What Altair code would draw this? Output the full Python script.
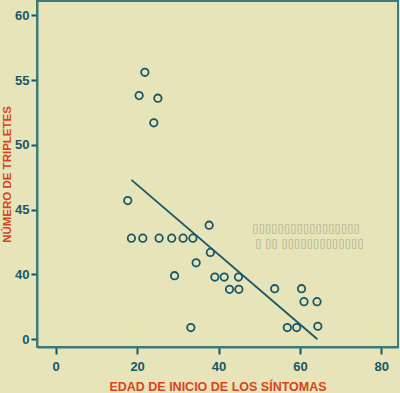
import altair as alt
import pandas as pd

# Age at symptom onset (x) vs number of triplets (y)
edad = [21.9, 20.5, 25.1, 24.1, 17.7, 18.6, 21.4, 25.4, 28.5, 31.3, 33.7, 37.7, 38.0,
        34.5, 29.2, 39.1, 41.4, 44.9, 42.7, 45.0, 53.8, 60.4, 61.0, 64.2, 33.2, 56.9,
        59.2, 64.4]
tripletes = [55.6, 53.8, 53.6, 51.7, 45.7, 42.8, 42.8, 42.8, 42.8, 42.8, 42.8, 43.8, 41.7,
             40.9, 39.9, 39.8, 39.8, 39.8, 38.85, 38.85, 38.9, 38.9, 37.9, 37.9, 35.9, 35.9,
             35.9, 36.0]

# regression line endpoints
linea_x = [18.6, 64.3]
linea_y = [47.3, 35.0]

nota_lineas = ["▯▯▯▯▯▯▯▯▯▯▯▯▯▯▯▯▯", "▯ ▯▯ ▯▯▯▯▯▯▯▯▯▯▯▯▯"]
nota_x = [48.3, 49.0]
nota_y = [43.5, 42.35]

x_ticks = [0, 20, 40, 60, 80]
y_ticks = [35, 40, 45, 50, 55, 60]

BG = "#e6e4b8"
TEAL = "#17576a"
FRAME = "#3d7b79"
RED = "#d9441c"
FONT = "Liberation Sans"

puntos = pd.DataFrame({"edad": edad, "tripletes": tripletes})
linea = pd.DataFrame({"edad": linea_x, "tripletes": linea_y})
nota = pd.DataFrame({"edad": nota_x, "tripletes": nota_y, "t": nota_lineas})

xscale = alt.Scale(domain=[-4.6, 84.1], nice=False, zero=False)
yscale = alt.Scale(domain=[34.4, 61.1], nice=False, zero=False)

xaxis = alt.Axis(values=x_ticks, title="EDAD DE INICIO DE LOS SÍNTOMAS", grid=False,
                 labelFont=FONT, labelFontWeight="bold", labelFontSize=13, labelColor=TEAL,
                 titleFont=FONT, titleFontWeight="bold", titleFontSize=12.5, titleColor=RED,
                 domainColor=FRAME, domainWidth=2, tickColor=TEAL, tickWidth=2, tickSize=7,
                 labelPadding=6, titlePadding=7)
yaxis = alt.Axis(values=y_ticks, title="NÚMERO DE TRIPLETES", grid=False,
                 labelExpr="datum.value == 35 ? '0' : datum.label",
                 labelFont=FONT, labelFontWeight="bold", labelFontSize=13, labelColor=TEAL,
                 titleFont=FONT, titleFontWeight="bold", titleFontSize=11.5, titleColor=RED,
                 domainColor=FRAME, domainWidth=2, tickColor=TEAL, tickWidth=2, tickSize=6,
                 labelPadding=2, titlePadding=2)

pts = alt.Chart(puntos).mark_point(filled=False, shape="circle", size=55, strokeWidth=1.8,
                                   color=TEAL, opacity=1).encode(
    x=alt.X("edad:Q", scale=xscale, axis=xaxis),
    y=alt.Y("tripletes:Q", scale=yscale, axis=yaxis),
)

ln = alt.Chart(linea).mark_line(color=TEAL, strokeWidth=1.8).encode(
    x=alt.X("edad:Q", scale=xscale),
    y=alt.Y("tripletes:Q", scale=yscale),
)

txt = alt.Chart(nota).mark_text(align="left", baseline="middle", font="DejaVu Sans",
                                fontSize=11.5, color="#aaa78a").encode(
    x=alt.X("edad:Q", scale=xscale),
    y=alt.Y("tripletes:Q", scale=yscale),
    text="t:N",
)

chart = alt.layer(pts, ln, txt).properties(
    width=361, height=346,
    background=BG,
    padding={"left": 37, "top": 1, "right": 2, "bottom": 46},
    autosize=alt.AutoSizeParams(type="none"),
).configure_view(stroke=FRAME, strokeWidth=2, fill=BG)

chart.save("out.html", embed_options={"renderer": "svg", "actions": False})
